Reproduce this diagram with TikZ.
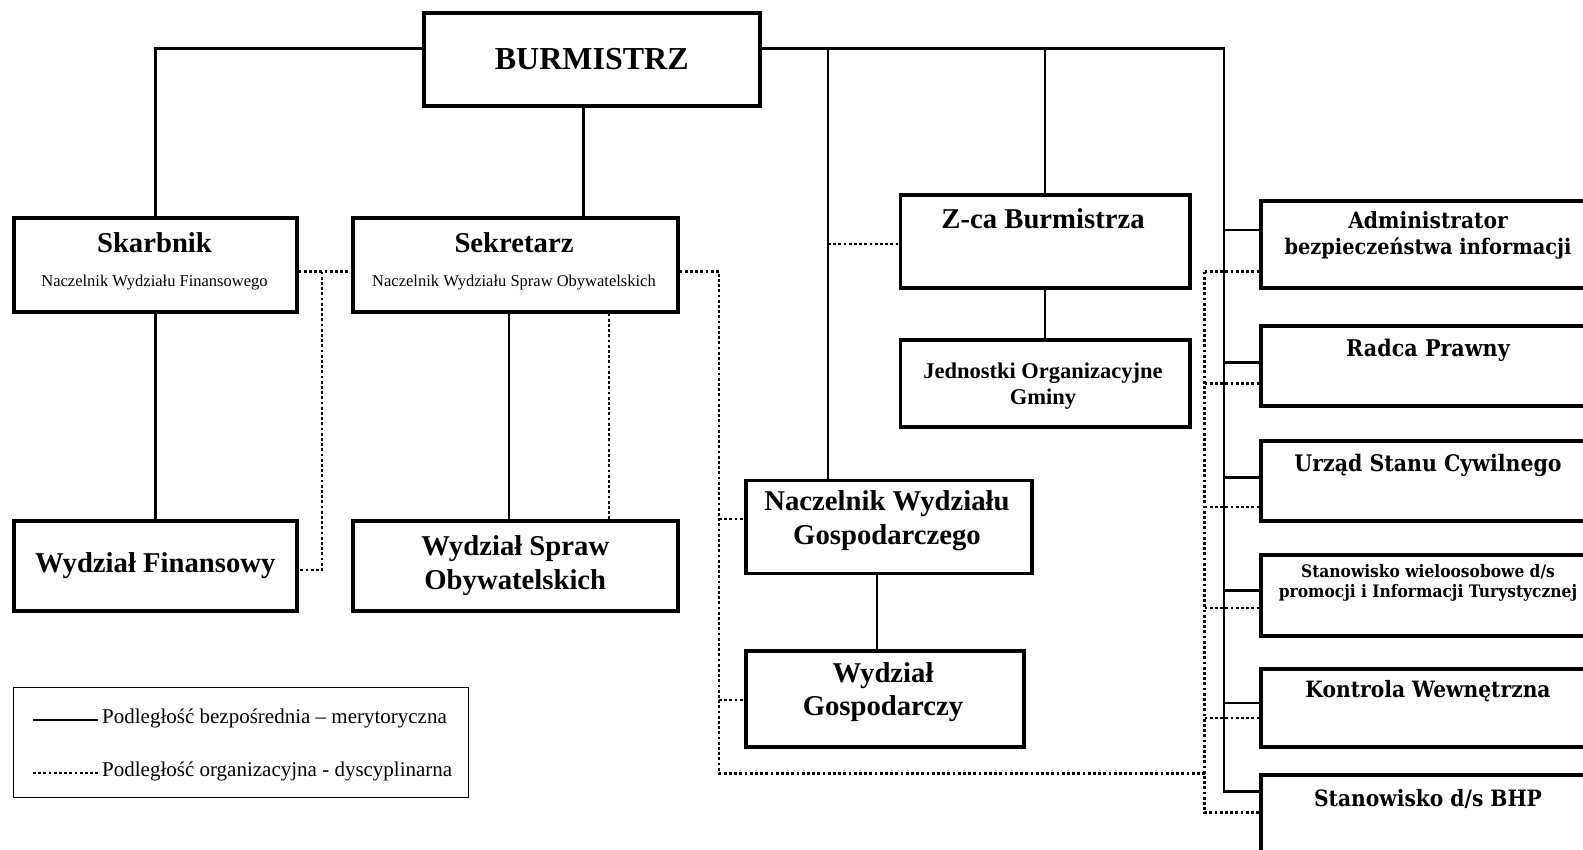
\documentclass[tikz,border=0pt]{standalone}
\usepackage{fontspec}
\setmainfont{Liberation Serif}
\newfontfamily\camfont{DejaVu Serif}[FakeStretch=0.9]
\begin{document}
\begin{tikzpicture}[x=1pt,y=-1pt,
  box/.style={draw, line width=3.6pt, inner sep=0pt, anchor=north west, align=center},
  conn/.style={line width=2.4pt},
  dotln/.style={line width=2.8pt, dash pattern=on 2.8pt off 2.4pt},
  big/.style={font=\bfseries\fontsize{28.7}{34}\selectfont},
  ttl/.style={font=\bfseries\fontsize{28.7}{34}\selectfont, align=center, inner sep=0pt},
  sub/.style={font=\fontsize{16.5}{19}\selectfont, inner sep=0pt},
  rtxt/.style={font=\camfont\bfseries\fontsize{21.5}{26.5}\selectfont, align=center, inner sep=0pt},
  legtxt/.style={font=\fontsize{21}{24}\selectfont, anchor=west, inner sep=4pt}]
\useasboundingbox (0,0) rectangle (1583,850);
\fill[white] (0,0) rectangle (1583,850);
\clip (0,0) rectangle (1583,850);

% ---- boxes
\node[box, minimum width=336pt, minimum height=93pt, font=\bfseries\fontsize{32}{36}\selectfont] (bur) at (422,11) {BURMISTRZ};
\node[box, minimum width=283pt, minimum height=94pt] (sk) at (12,216) {};
\node[ttl] (sk-t) at (154.5,243) {Skarbnik};
\node[sub] (sk-s) at (154.5,282.5) {Naczelnik Wydziału Finansowego};
\node[box, minimum width=325pt, minimum height=94pt] (sek) at (351,216) {};
\node[ttl] (sek-t) at (514,243) {Sekretarz};
\node[sub] (sek-s) at (514,282.5) {Naczelnik Wydziału Spraw Obywatelskich};
\node[box, big, minimum width=283pt, minimum height=90pt] (wf) at (12,519) {Wydział Finansowy};
\node[box, big, minimum width=325pt, minimum height=90pt] (wso) at (351,519) {Wydział Spraw\\Obywatelskich};
\node[box, minimum width=289.5pt, minimum height=93pt] (zca) at (898.5,193) {};
\node[ttl] (zca-t) at (1043,219) {Z-ca Burmistrza};
\node[box, minimum width=289.5pt, minimum height=87pt] (jed) at (898.5,338) {};
\node[ttl, font=\bfseries\fontsize{22.5}{25.5}\selectfont] (jed-t) at (1043,386) {Jednostki Organizacyjne\\Gminy};
\node[box, minimum width=286pt, minimum height=93pt] (nwg) at (744,478.5) {};
\node[ttl] (nwg-t) at (887,521) {Naczelnik Wydziału\\Gospodarczego};
\node[box, minimum width=278pt, minimum height=96pt] (wg) at (744,649) {};
\node[ttl, font=\bfseries\fontsize{28.7}{32.5}\selectfont] (wg-t) at (883,692) {Wydział\\Gospodarczy};

% right column
\node[box, minimum width=338pt, minimum height=87pt] (adm) at (1259,199) {};
\node[rtxt] (adm-t) at (1428,235.5) {{\fontsize{22.5}{26.5}\selectfont Administrator}\\bezpieczeństwa informacji};
\node[box, minimum width=338pt, minimum height=80pt] (rad) at (1259,324) {};
\node[rtxt, font=\camfont\bfseries\fontsize{23}{26.5}\selectfont] (rad-t) at (1428,350) {Radca Prawny};
\node[box, minimum width=338pt, minimum height=80pt] (usc) at (1259,439) {};
\node[rtxt, font=\camfont\bfseries\fontsize{22.8}{26.5}\selectfont] (usc-t) at (1428,465) {Urząd Stanu Cywilnego};
\node[box, minimum width=338pt, minimum height=81pt] (sw) at (1259,553) {};
\node[rtxt, font=\camfont\bfseries\fontsize{17.2}{20}\selectfont] (sw-t) at (1428,582.5) {Stanowisko wieloosobowe d/s\\promocji i Informacji Turystycznej};
\node[box, minimum width=338pt, minimum height=78pt] (kw) at (1259,667) {};
\node[rtxt, font=\camfont\bfseries\fontsize{22.5}{26.5}\selectfont] (kw-t) at (1428,691.5) {Kontrola Wewnętrzna};
\node[box, minimum width=338pt, minimum height=95pt] (bhp) at (1259,773) {};
\node[rtxt, font=\camfont\bfseries\fontsize{22.5}{26.5}\selectfont] (bhp-t) at (1428,798.6) {Stanowisko d/s BHP};

% ---- legend
\node[draw, line width=1.3pt, anchor=north west, minimum width=454.5pt, minimum height=110pt, inner sep=0pt] (leg) at (13,686.5) {};
\coordinate (ls1) at (33,720);
\coordinate (ls2) at (33,773);
\node[legtxt] (lg1) at (98,718) {Podległość bezpośrednia – merytoryczna};
\node[legtxt] (lg2) at (98,771) {Podległość organizacyjna - dyscyplinarna};
\draw[conn] (ls1) -- (ls1 -| lg1.west);
\draw[dotln] (ls2) -- (ls2 -| lg2.west);

% ---- junction coordinates
\coordinate (tl) at (154.5,48.5);
\coordinate (tr) at (1224,48.5);
\coordinate (vb) at (583.5,48.5);
\coordinate (vn) at (828,48.5);
\coordinate (vs) at (509,0);
\coordinate (vsd) at (609,0);
\coordinate (vg) at (877,0);
\coordinate (rb) at (1224,791.5);

% ---- solid connectors
\draw[conn] (sk.north) |- (bur.west |- tl);
\draw[conn] (bur.east |- tr) -- (tr) -- (rb) -- (bhp.west |- rb);
\draw[conn] (vb |- bur.south) -- (vb |- sek.north);
\draw[conn] (vn) -- (vn |- nwg.north);
\draw[conn] (zca.north |- tr) -- (zca.north);
\draw[conn] (zca.south) -- (jed.north);
\draw[conn] (sk.south) -- (wf.north);
\draw[conn] (vs |- sek.south) -- (vs |- wso.north);
\draw[conn] (vg |- nwg.south) -- (vg |- wg.north);
\foreach \b/\yy in {adm/230, rad/362.5, usc/477.5, sw/590.6, kw/703}
  \draw[conn] (1224,\yy) -- (\b.west |- 0,\yy);

% ---- dotted connectors
\coordinate (j1) at (322,271.6);
\coordinate (j1b) at (322,570);
\draw[dotln] (sk.east |- j1) -- (sek.west |- j1);
\draw[dotln] (j1) -- (j1b) -- (wf.east |- j1b);
\draw[dotln] (vsd |- sek.south) -- (vsd |- wso.north);
\coordinate (j2) at (719,271.6);
\coordinate (j3) at (719,773.5);
\coordinate (j4) at (1204.5,773.5);
\coordinate (j5) at (1204.5,271.6);
\coordinate (j6) at (1204.5,812.7);
\draw[dotln] (sek.east |- j2) -- (j2) -- (j3) -- (j4);
\draw[dotln] (j2 |- 0,519) -- (nwg.west |- 0,519);
\draw[dotln] (j2 |- 0,700) -- (wg.west |- 0,700);
\draw[dotln] (vn |- 0,244) -- (zca.west |- 0,244);
\draw[dotln] (j5) -- (j6) -- (bhp.west |- j6);
\foreach \b/\yy in {adm/271.6, rad/383.6, usc/507, sw/608, kw/718}
  \draw[dotln] (1204.5,\yy) -- (\b.west |- 0,\yy);
\end{tikzpicture}
\end{document}
